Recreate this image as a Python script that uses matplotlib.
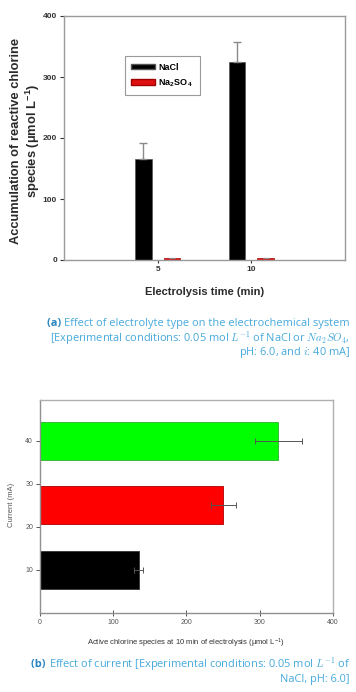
import numpy as np
import matplotlib
matplotlib.use('Agg')
import matplotlib.pyplot as plt
from matplotlib.patches import Patch

plt.rcParams['font.family'] = ['Liberation Sans', 'DejaVu Sans']
plt.rcParams['mathtext.fontset'] = 'cm'

# (a) electrolyte type
times = [5, 10]
nacl = [166, 324]
nacl_err = [26, 33]
na2so4 = [3, 3]
na2so4_err = [1, 1]

# (b) current
currents = [10, 25, 40]
current_ticks = [10, 20, 30, 40]
active_cl = [135, 250, 325]
active_cl_err = [6, 17, 32]
bar_colors = ['#000000', '#ff0000', '#00ff00']
edge_colors = ['#333333', '#b00000', '#30b030']

axis_gray = '#9a9a9a'
cap_color = '#46a9dc'
cap_dark = '#2a86c0'

fig = plt.figure(figsize=(3.56, 6.92), dpi=100)

# ---------- top chart ----------
ax1 = fig.add_axes([64/356, 1-260/692, 281/356, 244/692])
w = 0.88
off = 0.76
x = np.array(times, dtype=float)
ax1.bar(x - off, nacl, width=w, color='black', edgecolor='#555555', linewidth=0.5,
        yerr=[np.zeros(2), nacl_err], error_kw=dict(ecolor='#8a8a8a', elinewidth=1.0, capsize=3, capthick=1.0),
        label='NaCl')
ax1.bar(x + off, na2so4, width=w, color='#e01010', edgecolor='#a00000', linewidth=0.5,
        yerr=[np.zeros(2), na2so4_err], error_kw=dict(ecolor='#8a8a8a', elinewidth=0.8, capsize=2, capthick=0.8),
        label='Na$_\\mathregular{2}$SO$_\\mathregular{4}$')
ax1.set_xlim(0, 15)
ax1.set_ylim(0, 400)
ax1.set_xticks(times)
ax1.set_yticks([0, 100, 200, 300, 400])
for s in ax1.spines.values():
    s.set_color(axis_gray)
    s.set_linewidth(1.0)
ax1.tick_params(axis='both', colors='#333333', labelsize=6, length=3, width=0.8, pad=2)
ax1.tick_params(axis='x', length=2)
for lab in ax1.get_xticklabels() + ax1.get_yticklabels():
    lab.set_fontweight('bold')
ax1.set_ylabel('Accumulation of reactive chlorine\nspecies (\u03bcmol L$^{\\mathregular{-1}}$)',
               fontsize=9.3, fontweight='bold', color='#2a2a2a', linespacing=1.15)
ax1.yaxis.set_label_coords(-0.079, 0.49)
ax1.set_xlabel('Electrolysis time (min)', fontsize=8, fontweight='bold', color='#2a2a2a')
ax1.xaxis.set_label_coords(0.5, -0.11)
handles = [Patch(facecolor='black', edgecolor='#555555'),
           Patch(facecolor='#e01010', edgecolor='#a00000')]
leg = ax1.legend(handles, ['NaCl', 'Na$_\\mathregular{2}$SO$_\\mathregular{4}$'],
                 loc='upper left', bbox_to_anchor=(0.217, 0.835), fancybox=False,
                 edgecolor=axis_gray, framealpha=1, borderpad=0.7, handlelength=2.6,
                 handleheight=0.6, handletextpad=0.4, labelspacing=0.6, borderaxespad=0,
                 prop={'size': 6.5, 'weight': 'bold'})
leg.get_frame().set_linewidth(0.8)

# ---------- bottom chart ----------
ax2 = fig.add_axes([40/356, 1-613/692, 293/356, 213/692])
ax2.barh(currents, active_cl, height=8.8, color=bar_colors, edgecolor=edge_colors, linewidth=0.6,
         xerr=active_cl_err, error_kw=dict(ecolor='#555555', elinewidth=0.7, capsize=2, capthick=0.7))
ax2.set_xlim(0, 400)
ax2.set_ylim(0, 49.5)
ax2.set_yticks(current_ticks)
ax2.set_xticks([0, 100, 200, 300, 400])
for s in ax2.spines.values():
    s.set_color('#b0b0b0')
    s.set_linewidth(1.0)
ax2.spines['left'].set_color('#909090')
ax2.spines['bottom'].set_color('#909090')
ax2.tick_params(axis='both', colors='#555555', labelsize=5, length=3, width=0.7, pad=2)
ax2.tick_params(axis='x', direction='inout', length=4)
ax2.set_ylabel('Current (mA)', fontsize=5.5, color='#555555')
ax2.yaxis.set_label_coords(-0.085, 0.507)
ax2.set_xlabel('Active chlorine species at 10 min of electrolysis (\u03bcmol L$^{\\mathregular{-1}}$)',
               fontsize=5.5, color='#333333')
ax2.xaxis.set_label_coords(0.5, -0.112)

# ---------- captions ----------
cap_font = ['Open Sans', 'DejaVu Sans']
cap_size = 7.9
renderer = fig.canvas.get_renderer()


def caption_line(y, text, prefix=None):
    t = fig.text(350/356, 1 - y/692, text, ha='right', va='center', fontsize=cap_size,
                 color=cap_color, family=cap_font)
    if prefix:
        bb = t.get_window_extent(renderer=renderer)
        fig.text(bb.x0 / fig.bbox.width, 1 - y/692, prefix + ' ', ha='right', va='center',
                 fontsize=cap_size, color=cap_dark, family=cap_font, fontweight='bold')


caption_line(323.5, 'Effect of electrolyte type on the electrochemical system', '(a)')
caption_line(338, '[Experimental conditions: 0.05 mol $L^{-1}$ of NaCl or $Na_2SO_4$,')
caption_line(353, 'pH: 6.0, and $i$: 40 mA]')
caption_line(664.5, 'Effect of current [Experimental conditions: 0.05 mol $L^{-1}$ of', '(b)')
caption_line(679.5, 'NaCl, pH: 6.0]')

fig.savefig('out.png', dpi=100)
